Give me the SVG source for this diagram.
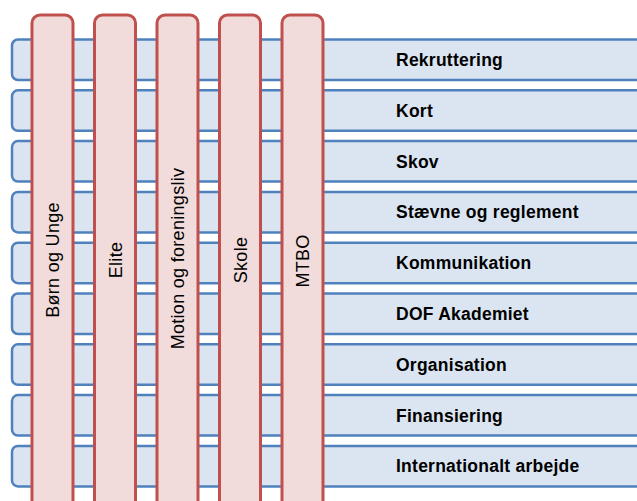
<svg xmlns="http://www.w3.org/2000/svg" width="637" height="501" viewBox="0 0 637 501">
<style>
.h{fill:#DBE5F1;stroke:#4F81BD;stroke-width:2.5}
.v{fill:#F2DCDB;stroke:#C0504D;stroke-width:3}
.ht{font-family:"Liberation Sans",Arial,sans-serif;font-size:17.5px;font-weight:bold;fill:#000;letter-spacing:0.25px}
.vt{font-family:"Liberation Sans",Arial,sans-serif;font-size:18px;fill:#000;text-anchor:middle;letter-spacing:0.3px}
</style>
<rect width="637" height="501" fill="#fff"/>
<g id="row1"><rect class="h" x="12" y="39.5" width="660" height="40.5" rx="6"/><text class="ht" x="396" y="66.3">Rekruttering</text></g>
<g id="row2"><rect class="h" x="12" y="90.3" width="660" height="40.5" rx="6"/><text class="ht" x="396" y="116.8">Kort</text></g>
<g id="row3"><rect class="h" x="12" y="141.1" width="660" height="40.5" rx="6"/><text class="ht" x="396" y="167.6">Skov</text></g>
<g id="row4"><rect class="h" x="12" y="191.9" width="660" height="40.5" rx="6"/><text class="ht" x="396" y="218.4">Stævne og reglement</text></g>
<g id="row5"><rect class="h" x="12" y="242.7" width="660" height="40.5" rx="6"/><text class="ht" x="396" y="269.2">Kommunikation</text></g>
<g id="row6"><rect class="h" x="12" y="293.5" width="660" height="40.5" rx="6"/><text class="ht" x="396" y="320">DOF Akademiet</text></g>
<g id="row7"><rect class="h" x="12" y="344.3" width="660" height="40.5" rx="6"/><text class="ht" x="396" y="370.8">Organisation</text></g>
<g id="row8"><rect class="h" x="12" y="395.1" width="660" height="40.5" rx="6"/><text class="ht" x="396" y="421.6">Finansiering</text></g>
<g id="row9"><rect class="h" x="12" y="445.9" width="660" height="40.5" rx="6"/><text class="ht" x="396" y="472.4">Internationalt arbejde</text></g>
<g id="col1"><rect class="v" x="32" y="15" width="41" height="520" rx="8"/><text class="vt" transform="translate(59,260) rotate(-90)">Børn og Unge</text></g>
<g id="col2"><rect class="v" x="94.5" y="15" width="41" height="520" rx="8"/><text class="vt" transform="translate(121.5,260) rotate(-90)">Elite</text></g>
<g id="col3"><rect class="v" x="157" y="15" width="41" height="520" rx="8"/><text class="vt" transform="translate(184,258.5) rotate(-90)">Motion og foreningsliv</text></g>
<g id="col4"><rect class="v" x="219.5" y="15" width="41" height="520" rx="8"/><text class="vt" transform="translate(246.5,260) rotate(-90)">Skole</text></g>
<g id="col5"><rect class="v" x="282" y="15" width="41" height="520" rx="8"/><text class="vt" transform="translate(309,261) rotate(-90)">MTBO</text></g>
</svg>
